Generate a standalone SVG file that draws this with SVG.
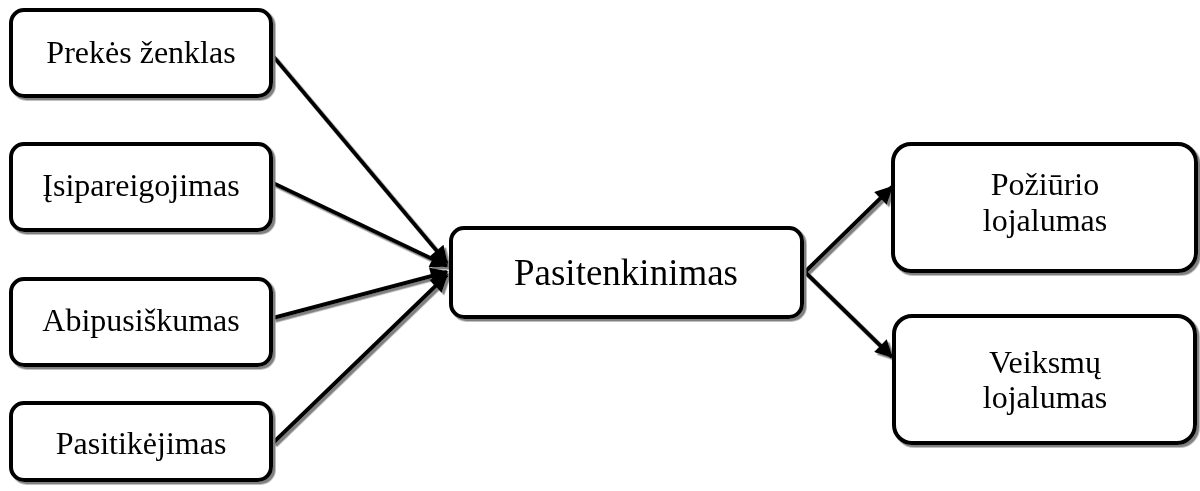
<svg xmlns="http://www.w3.org/2000/svg" width="1200" height="491" viewBox="0 0 1200 491">
  <style>
    .box { fill: #ffffff; stroke: #000000; stroke-width: 4; }
    .lbl { font-family: "Liberation Serif", "Times New Roman", serif; fill: #000000; text-anchor: middle; }
    .side { font-size: 32px; }
    .main { font-size: 37px; }
    .edge { stroke: #000000; stroke-width: 4; fill: none; marker-end: url(#head); }
  </style>
  <defs>
    <filter id="shade" x="-10%" y="-10%" width="130%" height="130%">
      <feDropShadow dx="2.5" dy="2.5" stdDeviation="0.3" flood-color="#808080" flood-opacity="1"/>
    </filter>
    <marker id="head" viewBox="0 0 10 10" refX="9" refY="5" markerWidth="22" markerHeight="18" markerUnits="userSpaceOnUse" orient="auto">
      <path d="M0,0 L10,5 L0,10 Z" fill="#000000"/>
    </marker>
  </defs>

  <!-- connectors -->
  <g id="connectors" filter="url(#shade)">
    <line class="edge" x1="273" y1="56" x2="447" y2="263"/>
    <line class="edge" x1="273" y1="183" x2="447" y2="266"/>
    <line class="edge" x1="273" y1="318" x2="447" y2="272"/>
    <line class="edge" x1="273" y1="443" x2="447" y2="275"/>
    <line class="edge" x1="805" y1="272" x2="892" y2="187"/>
    <line class="edge" x1="805" y1="272" x2="892" y2="357"/>
  </g>

  <!-- source factors -->
  <g id="node-prekes-zenklas" filter="url(#shade)">
    <rect class="box" x="11" y="10" width="260" height="86" rx="13"/>
    <text class="lbl side" x="141" y="63">Prekės ženklas</text>
  </g>
  <g id="node-isipareigojimas" filter="url(#shade)">
    <rect class="box" x="11" y="144" width="260" height="86" rx="13"/>
    <text class="lbl side" x="141" y="196">Įsipareigojimas</text>
  </g>
  <g id="node-abipusiskumas" filter="url(#shade)">
    <rect class="box" x="11" y="279" width="260" height="86" rx="13"/>
    <text class="lbl side" x="141" y="331">Abipusiškumas</text>
  </g>
  <g id="node-pasitikejimas" filter="url(#shade)">
    <rect class="box" x="11" y="403" width="260" height="77" rx="13"/>
    <text class="lbl side" x="141" y="454">Pasitikėjimas</text>
  </g>

  <!-- central node -->
  <g id="node-pasitenkinimas" filter="url(#shade)">
    <rect class="box" x="451" y="228" width="351" height="89" rx="13"/>
    <text class="lbl main" x="626" y="285">Pasitenkinimas</text>
  </g>

  <!-- outcomes -->
  <g id="node-poziurio-lojalumas" filter="url(#shade)">
    <rect class="box" x="893" y="144" width="303" height="127" rx="18"/>
    <text class="lbl side" x="1045" y="195">Požiūrio</text>
    <text class="lbl side" x="1045" y="231">lojalumas</text>
  </g>
  <g id="node-veiksmu-lojalumas" filter="url(#shade)">
    <rect class="box" x="894" y="316" width="301" height="127" rx="18"/>
    <text class="lbl side" x="1045" y="373">Veiksmų</text>
    <text class="lbl side" x="1045" y="408">lojalumas</text>
  </g>
</svg>
